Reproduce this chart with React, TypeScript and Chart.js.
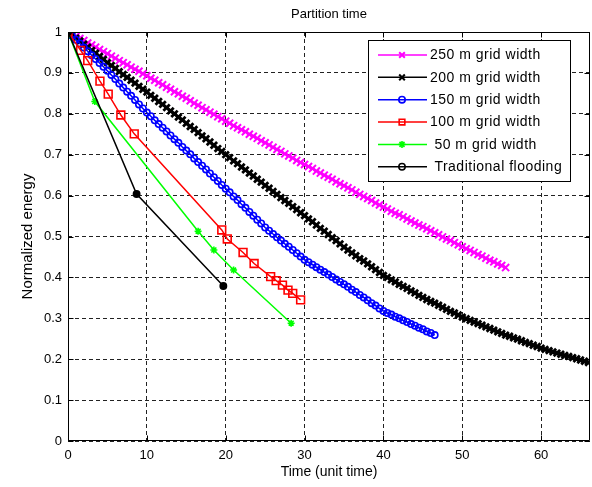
import React, { useEffect, useRef } from 'react';
import { Chart, registerables } from 'chart.js';
import { drawPoint } from 'chart.js/helpers';

Chart.register(...registerables);

// Shared sampling times (unit time) for the densely sampled series
const timeSteps = [
  0, 0.5, 1, 1.5, 2, 2.5, 3, 3.5, 4, 4.5, 5, 5.5, 6, 6.5, 7, 7.5, 8, 8.5, 9, 9.5,
  10, 10.5, 11, 11.5, 12, 12.5, 13, 13.5, 14, 14.5, 15, 15.5, 16, 16.5, 17, 17.5, 18, 18.5, 19, 19.5,
  20, 20.5, 21, 21.5, 22, 22.5, 23, 23.5, 24, 24.5, 25, 25.5, 26, 26.5, 27, 27.5, 28, 28.5, 29, 29.5,
  30, 30.5, 31, 31.5, 32, 32.5, 33, 33.5, 34, 34.5, 35, 35.5, 36, 36.5, 37, 37.5, 38, 38.5, 39, 39.5,
  40, 40.5, 41, 41.5, 42, 42.5, 43, 43.5, 44, 44.5, 45, 45.5, 46, 46.5, 47, 47.5, 48, 48.5, 49, 49.5,
  50, 50.5, 51, 51.5, 52, 52.5, 53, 53.5, 54, 54.5, 55, 55.5, 56, 56.5, 57, 57.5, 58, 58.5, 59, 59.5,
  60, 60.5, 61, 61.5, 62, 62.5, 63, 63.5, 64, 64.5, 65, 65.5, 66,
];

const energy250 = [
  1.000, 0.995, 0.989, 0.984, 0.979, 0.973, 0.968, 0.963, 0.957, 0.952,
  0.947, 0.941, 0.936, 0.930, 0.925, 0.920, 0.914, 0.909, 0.904, 0.898,
  0.893, 0.887, 0.882, 0.876, 0.871, 0.865, 0.860, 0.854, 0.849, 0.843,
  0.838, 0.832, 0.826, 0.821, 0.815, 0.810, 0.804, 0.799, 0.793, 0.788,
  0.782, 0.777, 0.771, 0.766, 0.761, 0.756, 0.750, 0.745, 0.740, 0.734,
  0.729, 0.724, 0.718, 0.713, 0.708, 0.702, 0.697, 0.692, 0.686, 0.681,
  0.676, 0.671, 0.666, 0.660, 0.655, 0.650, 0.645, 0.640, 0.634, 0.629,
  0.624, 0.619, 0.614, 0.608, 0.603, 0.598, 0.593, 0.588, 0.582, 0.577,
  0.572, 0.567, 0.562, 0.557, 0.553, 0.548, 0.543, 0.538, 0.533, 0.528,
  0.524, 0.519, 0.514, 0.509, 0.504, 0.499, 0.494, 0.490, 0.485, 0.480,
  0.475, 0.470, 0.466, 0.461, 0.456, 0.452, 0.447, 0.442, 0.438, 0.433,
  0.429, 0.424,
];

const energy200 = [
  1.000, 0.993, 0.985, 0.978, 0.970, 0.963, 0.955, 0.948, 0.940, 0.933,
  0.925, 0.918, 0.911, 0.903, 0.896, 0.889, 0.882, 0.875, 0.867, 0.860,
  0.853, 0.845, 0.838, 0.830, 0.823, 0.815, 0.807, 0.800, 0.792, 0.785,
  0.777, 0.769, 0.762, 0.754, 0.746, 0.739, 0.731, 0.723, 0.715, 0.708,
  0.700, 0.693, 0.685, 0.678, 0.670, 0.663, 0.655, 0.648, 0.640, 0.633,
  0.625, 0.618, 0.610, 0.603, 0.595, 0.588, 0.581, 0.573, 0.566, 0.558,
  0.551, 0.543, 0.536, 0.528, 0.520, 0.513, 0.505, 0.497, 0.490, 0.482,
  0.474, 0.467, 0.460, 0.453, 0.446, 0.440, 0.433, 0.426, 0.419, 0.412,
  0.405, 0.400, 0.394, 0.389, 0.383, 0.378, 0.373, 0.367, 0.362, 0.356,
  0.351, 0.346, 0.341, 0.337, 0.332, 0.327, 0.322, 0.317, 0.313, 0.308,
  0.303, 0.299, 0.295, 0.291, 0.287, 0.283, 0.279, 0.275, 0.271, 0.267,
  0.263, 0.259, 0.256, 0.252, 0.249, 0.245, 0.241, 0.238, 0.234, 0.231,
  0.227, 0.224, 0.221, 0.218, 0.215, 0.212, 0.209, 0.207, 0.204, 0.201,
  0.198, 0.195, 0.192,
];

const energy150 = [
  1.000, 0.991, 0.981, 0.972, 0.962, 0.953, 0.943, 0.934, 0.924, 0.915,
  0.905, 0.895, 0.885, 0.874, 0.864, 0.854, 0.844, 0.834, 0.823, 0.813,
  0.803, 0.794, 0.784, 0.775, 0.766, 0.757, 0.747, 0.738, 0.729, 0.719,
  0.710, 0.701, 0.691, 0.682, 0.673, 0.664, 0.654, 0.645, 0.636, 0.626,
  0.617, 0.608, 0.598, 0.589, 0.579, 0.570, 0.560, 0.551, 0.541, 0.532,
  0.522, 0.514, 0.506, 0.498, 0.490, 0.482, 0.475, 0.467, 0.459, 0.451,
  0.443, 0.437, 0.431, 0.425, 0.419, 0.413, 0.407, 0.401, 0.395, 0.389,
  0.383, 0.377, 0.370, 0.364, 0.357, 0.351, 0.344, 0.337, 0.331, 0.324,
  0.318, 0.313, 0.309, 0.304, 0.300, 0.295, 0.291, 0.286, 0.282, 0.277,
  0.273, 0.268, 0.264, 0.259,
];

const time100 = [0, 1.6, 2.5, 4.05, 5.1, 6.7, 8.4, 19.5, 20.2, 22.2, 23.6, 25.7, 26.4, 27.2, 27.9, 28.5, 29.5];
const energy100 = [1.0, 0.955, 0.93, 0.88, 0.848, 0.797, 0.751, 0.516, 0.494, 0.461, 0.434, 0.402, 0.392, 0.381, 0.369, 0.361, 0.345];

const time50 = [0, 3.4, 16.5, 18.5, 21.0, 28.3];
const energy50 = [1.0, 0.83, 0.513, 0.467, 0.418, 0.288];

const timeTraditional = [0, 8.7, 19.7];
const energyTraditional = [1.0, 0.604, 0.379];

const seriesLabels = [
  '250 m grid width',
  '200 m grid width',
  '150 m grid width',
  '100 m grid width',
  ' 50 m grid width',
  ' Traditional flooding',
];

const chartTitle = 'Partition time';
const xTitle = 'Time (unit time)';
const yTitle = 'Normalized energy';

const FONT = "'Liberation Sans', Arial, Helvetica, sans-serif";

const pairs = (xs: number[], ys: number[]) => ys.map((y, i) => ({ x: xs[i], y }));

const styles = [
  { color: '#ff00ff', pointStyle: 'crossRot', radius: 5, pbw: 2, fill: 'rgba(0,0,0,0)' },
  { color: '#000000', pointStyle: 'crossRot', radius: 4.5, pbw: 2.8, fill: 'rgba(0,0,0,0)' },
  { color: '#0000ff', pointStyle: 'circle', radius: 3.2, pbw: 1.6, fill: 'rgba(0,0,0,0)' },
  { color: '#ff0000', pointStyle: 'rect', radius: 5.5, pbw: 1.6, fill: 'rgba(0,0,0,0)' },
  { color: '#00ff00', pointStyle: 'star', radius: 3.5, pbw: 1.6, fill: 'rgba(0,0,0,0)' },
  { color: '#000000', pointStyle: 'circle', radius: 3.2, pbw: 1.5, fill: '#000000' },
];

const framePlugin = {
  id: 'frameAndLegend',
  afterDraw(chart: any) {
    const { ctx, chartArea: a, scales } = chart;
    const L = Math.round(a.left) + 0.5;
    const R = Math.round(a.right) - 0.5;
    const T = Math.round(a.top) + 0.5;
    const B = Math.round(a.bottom) - 0.5;
    ctx.save();
    ctx.setLineDash([]);
    ctx.strokeStyle = '#000';
    ctx.lineWidth = 1;
    ctx.beginPath();
    ctx.rect(L, T, R - L, B - T);
    ctx.stroke();
    const tl = 5;
    ctx.beginPath();
    scales.x.ticks.forEach((t: any) => {
      const px = Math.round(scales.x.getPixelForValue(t.value)) + 0.5;
      ctx.moveTo(px, B); ctx.lineTo(px, B - tl);
      ctx.moveTo(px, T); ctx.lineTo(px, T + tl);
    });
    scales.y.ticks.forEach((t: any) => {
      const py = Math.round(scales.y.getPixelForValue(t.value)) + 0.5;
      ctx.moveTo(L, py); ctx.lineTo(L + tl, py);
      ctx.moveTo(R, py); ctx.lineTo(R - tl, py);
    });
    ctx.stroke();

    // title, centred over the plot area
    ctx.fillStyle = '#000';
    ctx.font = `13px ${FONT}`;
    ctx.textAlign = 'center';
    ctx.textBaseline = 'middle';
    ctx.fillText(chartTitle, (a.left + a.right) / 2, 14.5);

    // legend box
    const bx = 368.5, by = 40.5, bw = 202, bh = 141;
    ctx.fillStyle = '#fff';
    ctx.fillRect(bx, by, bw, bh);
    ctx.strokeStyle = '#000';
    ctx.strokeRect(bx, by, bw, bh);
    ctx.font = `14px ${FONT}`;
    try { (ctx as any).letterSpacing = '0.5px'; } catch (e) { /* ignore */ }
    ctx.textBaseline = 'middle';
    ctx.textAlign = 'left';
    seriesLabels.forEach((label, i) => {
      const st = styles[i];
      const y = 55 + i * 22.35;
      ctx.strokeStyle = st.color;
      ctx.lineWidth = 1.5;
      ctx.beginPath();
      ctx.moveTo(378, y);
      ctx.lineTo(427, y);
      ctx.stroke();
      ctx.fillStyle = 'rgba(0,0,0,0)';
      ctx.lineWidth = Math.min(st.pbw, 2);
      drawPoint(ctx, { pointStyle: st.pointStyle as any, radius: Math.min(st.radius, 4), rotation: 0, borderWidth: Math.min(st.pbw, 2) }, 402, y);
      ctx.fillStyle = '#000';
      ctx.fillText(label, 430, y + 0.5);
    });
    ctx.restore();
  },
};

const formatTick = (v: number) => String(Number(v.toFixed(2)));

export default function App() {
  const ref = useRef<HTMLCanvasElement | null>(null);

  useEffect(() => {
    document.body.style.margin = '0';
    const canvas = ref.current;
    if (!canvas) return;
    const seriesData = [
      pairs(timeSteps, energy250),
      pairs(timeSteps, energy200),
      pairs(timeSteps, energy150),
      pairs(time100, energy100),
      pairs(time50, energy50),
      pairs(timeTraditional, energyTraditional),
    ];
    const datasets = seriesData.map((data, i) => ({
      label: seriesLabels[i],
      data,
      borderColor: styles[i].color,
      backgroundColor: 'rgba(0,0,0,0)',
      pointBorderColor: styles[i].color,
      pointBackgroundColor: styles[i].fill,
      pointStyle: styles[i].pointStyle,
      pointRadius: styles[i].radius,
      pointBorderWidth: styles[i].pbw,
      borderWidth: 1.5,
      tension: 0,
      order: 5 - i,
    }));

    const chart = new Chart(canvas, {
      type: 'line',
      data: { datasets } as any,
      plugins: [framePlugin],
      options: {
        animation: false,
        responsive: false,
        events: [],
        layout: { autoPadding: false, padding: { left: 0, right: 2, top: 32, bottom: 0 } },
        font: { family: FONT },
        color: '#000',
        plugins: {
          legend: { display: false },
          tooltip: { enabled: false },
          title: { display: false },
        },
        scales: {
          x: {
            type: 'linear',
            min: 0,
            max: 66.2,
            afterFit: (s: any) => { s.height = 46; s.paddingLeft = 0; s.paddingRight = 0; },
            afterBuildTicks: (s: any) => { s.ticks = s.ticks.filter((t: any) => Math.abs(t.value % 10) < 1e-6); },
            ticks: { stepSize: 10, color: '#000', padding: 7, maxRotation: 0, font: { family: FONT, size: 13 }, callback: (v: any) => formatTick(Number(v)) },
            grid: { color: '#222', lineWidth: 1, drawTicks: false },
            border: { display: false, dash: [4, 3] },
            title: {
              display: true,
              text: xTitle,
              color: '#000',
              font: { family: FONT, size: 14 },
              padding: { top: 0, bottom: 6 },
            },
          },
          y: {
            type: 'linear',
            min: 0,
            max: 1,
            afterFit: (s: any) => { s.width = 68; s.paddingTop = 0; s.paddingBottom = 0; },
            ticks: { stepSize: 0.1, color: '#000', padding: 6, font: { family: FONT, size: 13 }, callback: (v: any) => formatTick(Number(v)) },
            grid: { color: '#222', lineWidth: 1, drawTicks: false },
            border: { display: false, dash: [4, 3] },
            title: {
              display: true,
              text: yTitle,
              color: '#000',
              font: { family: FONT, size: 15 },
              padding: { top: 19, bottom: 0 },
            },
          },
        },
      } as any,
    });
    return () => chart.destroy();
  }, []);

  return (
    <div style={{ width: 592, height: 487 }}>
      <canvas ref={ref} width={592} height={487} style={{ display: 'block' }} />
    </div>
  );
}
